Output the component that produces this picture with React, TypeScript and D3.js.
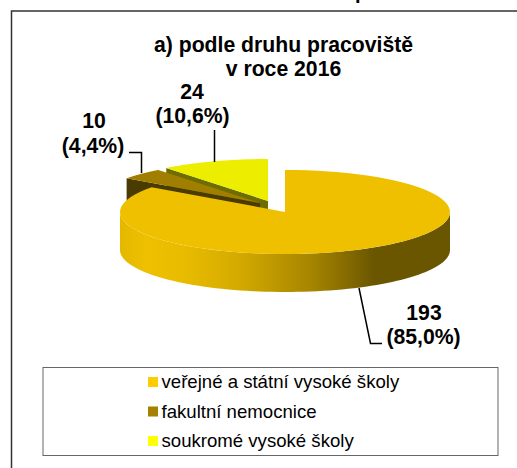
import React from "react";
import * as d3 from "d3";

const categories = ["veřejné a státní vysoké školy", "fakultní nemocnice", "soukromé vysoké školy"];
const values = [193, 10, 24];
const percentLabels = ["(85,0%)", "(4,4%)", "(10,6%)"];
const topColors = ["#EEC000", "#A07F00", "#EDED00"];
const wallColors = ["#6B5600", "#4A3B00", "#6E6E00"];
const legendColors = ["#FFCC00", "#A68000", "#FFFF00"];
const titleLines = ["a) podle druhu pracoviště", "v roce 2016"];
const centers = [
  [285, 212],
  [260, 203],
  [268, 201],
];
const wallStops: [number, string][] = [
  [0, "#E4B800"],
  [0.08, "#EEC000"],
  [0.2, "#E8BB00"],
  [0.36, "#D4AA00"],
  [0.58, "#A68500"],
  [0.77, "#6B5600"],
  [1, "#6A5500"],
];

const FONT = "'Liberation Sans', Arial, sans-serif";
const RX = 165;
const RY = 42;
const DEPTH = 38;
const LABEL_SIZE = 21.2;

const pie = d3.pie<number>().sort(null).startAngle(0).endAngle(2 * Math.PI);
const arcs = pie(values);
const project = (c: number[], a: number, dy = 0): [number, number] => [
  c[0] + RX * Math.sin(a),
  c[1] - RY * Math.cos(a) + dy,
];
const line = d3.line();

function topPath(i: number) {
  const c = centers[i];
  const { startAngle, endAngle } = arcs[i];
  const n = 80;
  const pts = d3.range(n + 1).map((k) => project(c, startAngle + ((endAngle - startAngle) * k) / n));
  return line([c as [number, number], ...pts]) + "Z";
}

function outerWall(i: number) {
  const c = centers[i];
  const a0 = Math.PI / 2;
  const a1 = Math.min((3 * Math.PI) / 2, arcs[i].endAngle);
  const n = 80;
  const as = d3.range(n + 1).map((k) => a0 + ((a1 - a0) * k) / n);
  return line([...as.map((a) => project(c, a)), ...as.slice().reverse().map((a) => project(c, a, DEPTH))]) + "Z";
}

function cutWall(i: number) {
  const c = centers[i];
  const a = arcs[i].startAngle;
  const p = project(c, a);
  return line([
    c as [number, number],
    p,
    [p[0], p[1] + DEPTH],
    [c[0], c[1] + DEPTH],
  ]) + "Z";
}

const legendRows = d3.scalePoint<number>().domain([0, 1, 2]).range([377, 436]);

export default function App() {
  const bold = { fontFamily: FONT, fontWeight: 700, fill: "#000", textAnchor: "middle" as const };
  return (
    <svg width={517} height={468} style={{ position: "absolute", left: 0, top: 0 }}>
      <defs>
        <linearGradient id="wall" gradientUnits="userSpaceOnUse" x1={centers[0][0] - RX} x2={centers[0][0] + RX} y1={0} y2={0}>
          {wallStops.map(([o, col]) => (
            <stop key={o} offset={o} stopColor={col} />
          ))}
        </linearGradient>
      </defs>
      <rect width={517} height={468} fill="#fff" />
      <text x={361} y={-1} {...bold} fontSize={20}>p</text>
      <path d="M11.5,468V11H517" fill="none" stroke="#333" strokeWidth={1.5} />

      {titleLines.map((t, i) => (
        <text key={t} x={283.5} y={52 + i * 24} {...bold} fontSize={LABEL_SIZE}>{t}</text>
      ))}

      {/* yellow slice, then brown slice, then the large slice in front */}
      <path d={cutWall(2)} fill={wallColors[2]} />
      <path d={topPath(2)} fill={topColors[2]} />
      <path d={cutWall(1)} fill={wallColors[1]} />
      <path d={topPath(1)} fill={topColors[1]} />
      <path d={outerWall(0)} fill="url(#wall)" />
      <path d={topPath(0)} fill={topColors[0]} />

      <path d="M129,152.5H141.5V173" fill="none" stroke="#000" strokeWidth={1.5} />
      <path d="M214.5,130V162" fill="none" stroke="#000" strokeWidth={1.5} />
      <path d="M359,288L370.5,343.5H382" fill="none" stroke="#000" strokeWidth={1.5} />

      <text x={94} y={128} {...bold} fontSize={LABEL_SIZE}>{values[1]}</text>
      <text x={93} y={153} {...bold} fontSize={LABEL_SIZE}>{percentLabels[1]}</text>
      <text x={192} y={99} {...bold} fontSize={LABEL_SIZE}>{values[2]}</text>
      <text x={192.5} y={123} {...bold} fontSize={LABEL_SIZE}>{percentLabels[2]}</text>
      <text x={424} y={320} {...bold} fontSize={LABEL_SIZE}>{values[0]}</text>
      <text x={423.5} y={344} {...bold} fontSize={LABEL_SIZE}>{percentLabels[0]}</text>

      <rect x={43} y={367.5} width={455} height={88} fill="#fff" stroke="#666" strokeWidth={1} />
      {categories.map((c, i) => (
        <g key={c}>
          <rect x={148} y={legendRows(i)!} width={10} height={10} fill={legendColors[i]} />
          <text x={161.5} y={legendRows(i)! + 11} fontFamily={FONT} fontSize={18.6} fill="#000">{c}</text>
        </g>
      ))}
    </svg>
  );
}
